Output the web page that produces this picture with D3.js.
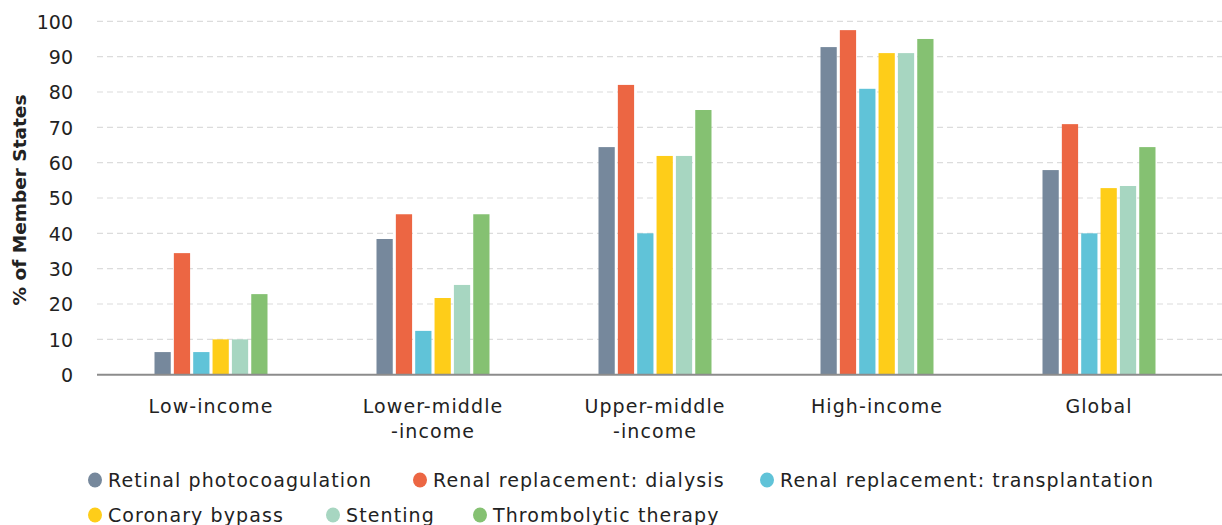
<!DOCTYPE html>
<html><head><meta charset="utf-8">
<script src="https://cdn.jsdelivr.net/npm/d3@7"></script>
<style>body{margin:0;background:#fff}svg{display:block}</style>
</head><body><svg id="c" width="1222" height="525"></svg>
<script>
const categories = [["Low-income"],["Lower-middle","-income"],["Upper-middle","-income"],["High-income"],["Global"]];
const seriesNames = ["Retinal photocoagulation","Renal replacement: dialysis","Renal replacement: transplantation","Coronary bypass","Stenting","Thrombolytic therapy"];
const colors = ["#76889c","#ec6643","#60c3d8","#fecd19","#a7d6c1","#85c172"];
const retinal = [6.4, 38.4, 64.4, 92.7, 57.9];
const dialysis = [34.4, 45.4, 82.0, 97.5, 70.9];
const transplant = [6.4, 12.4, 40.0, 80.9, 40.0];
const bypass = [10.0, 21.7, 61.9, 91.0, 52.8];
const stenting = [10.0, 25.4, 61.9, 91.0, 53.4];
const thrombolytic = [22.8, 45.4, 74.9, 95.0, 64.4];
const yTicks = [0,10,20,30,40,50,60,70,80,90,100];
const series = [retinal, dialysis, transplant, bypass, stenting, thrombolytic];

const font = "'DejaVu Sans', sans-serif";
const svg = d3.select("#c");
const y = d3.scaleLinear().domain([0,100]).range([374.7,21.3]);
const x0 = d3.scaleBand().domain(d3.range(categories.length)).range([100,1210]);
const x1 = d3.scaleBand().domain(d3.range(seriesNames.length)).range([0,113]).paddingInner(0.16);
const groupOffset = (x0.bandwidth()-113)/2;

// gridlines
svg.append("g").selectAll("line").data(yTicks.filter(d=>d>0)).join("line")
  .attr("x1",97).attr("x2",1222).attr("y1",d=>y(d)).attr("y2",d=>y(d))
  .attr("stroke","#dcdcdc").attr("stroke-width",1.2).attr("stroke-dasharray","6,4");

// y axis labels
const yAxis = d3.axisLeft(y).tickValues(yTicks).tickSize(0).tickPadding(0);
const ga = svg.append("g").attr("transform","translate(73,0)").call(yAxis);
ga.select(".domain").remove();
ga.selectAll("text").attr("font-family",font).attr("font-size",19).attr("fill","#222").attr("dy","0.36em");

// bars
const g = svg.append("g");
categories.forEach((c,i)=>{
  series.forEach((s,j)=>{
    g.append("rect")
      .attr("x", x0(i)+groupOffset+x1(j))
      .attr("width", x1.bandwidth())
      .attr("y", y(s[i]))
      .attr("height", y(0)-y(s[i]))
      .attr("fill", colors[j]);
  });
});

// baseline
svg.append("line").attr("x1",97).attr("x2",1222).attr("y1",y(0)).attr("y2",y(0))
  .attr("stroke","#8c8c8c").attr("stroke-width",2);

// x labels
const xl = svg.append("g");
categories.forEach((c,i)=>{
  const cx = x0(i)+x0.bandwidth()/2;
  const t = xl.append("text").attr("x", cx).attr("y",413)
    .attr("text-anchor","middle").attr("font-family",font).attr("font-size",19)
    .attr("letter-spacing",1.1).attr("fill","#222");
  c.forEach((line,k)=>t.append("tspan").attr("x", cx).attr("dy", k===0?0:25).text(line));
});

// y title
svg.append("text").attr("transform","translate(26,200) rotate(-90)").attr("text-anchor","middle")
  .attr("font-family",font).attr("font-size",18.5).attr("font-weight","bold").attr("fill","#222")
  .text("% of Member States");

// legend
const legendPos = [[95,480],[420,480],[767,480],[95,515],[333,515],[480,515]];
const lg = svg.append("g");
seriesNames.forEach((n,j)=>{
  const [lx,ly] = legendPos[j];
  lg.append("ellipse").attr("cx",lx).attr("cy",ly).attr("rx",7).attr("ry",7.5).attr("fill",colors[j]);
  lg.append("text").attr("x",lx+13).attr("y",ly).attr("dy","0.36em")
    .attr("font-family",font).attr("font-size",19).attr("letter-spacing",1.1).attr("fill","#222").text(n);
});
</script></body></html>
